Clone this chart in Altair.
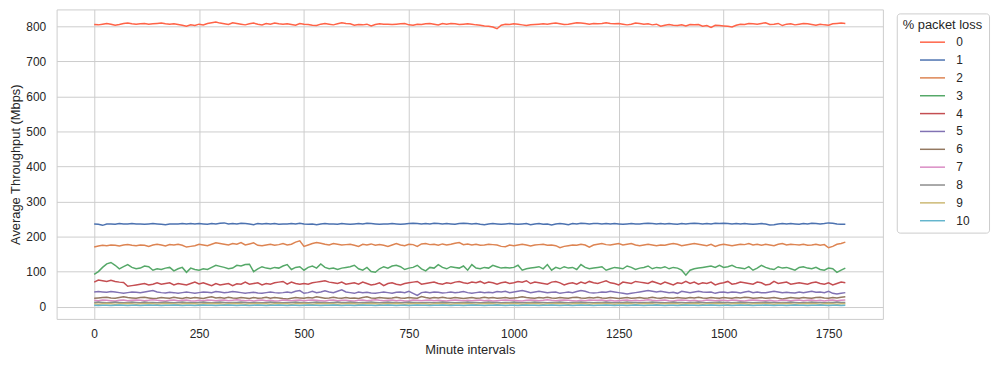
import altair as alt
import pandas as pd

minutes = list(range(0, 1800, 10))

loss_0 = [805, 804, 806, 808, 806, 803, 805, 808, 809, 807,
          806, 807, 808, 806, 807, 808, 809, 807, 806, 807,
          805, 803, 800, 804, 802, 806, 804, 808, 810, 812,
          809, 807, 805, 810, 808, 806, 804, 807, 809, 806,
          804, 808, 806, 809, 807, 806, 807, 805, 803, 808,
          806, 805, 803, 802, 806, 808, 806, 804, 807, 810,
          808, 807, 803, 805, 804, 806, 801, 805, 807, 806,
          806, 805, 806, 807, 808, 804, 803, 806, 805, 807,
          808, 806, 804, 808, 806, 808, 807, 805, 806, 807,
          806, 804, 803, 801, 800, 798, 793, 803, 806, 805,
          807, 806, 804, 802, 804, 805, 806, 807, 806, 808,
          809, 807, 805, 806, 808, 810, 809, 808, 806, 808,
          807, 808, 810, 808, 807, 808, 806, 804, 806, 809,
          808, 806, 807, 804, 806, 800, 803, 805, 803, 802,
          804, 801, 805, 804, 805, 800, 802, 797, 803, 802,
          801, 800, 798, 803, 806, 805, 808, 807, 806, 808,
          810, 805, 806, 808, 802, 806, 807, 804, 806, 808,
          807, 805, 803, 806, 804, 803, 807, 808, 809, 808]

loss_1 = [236, 235, 232, 236, 236, 235, 237, 236, 236, 237,
          236, 236, 235, 236, 237, 236, 235, 234, 236, 236,
          236, 237, 236, 237, 236, 237, 236, 235, 237, 236,
          238, 239, 236, 237, 236, 238, 237, 236, 234, 237,
          236, 237, 236, 237, 235, 236, 236, 237, 236, 238,
          236, 235, 236, 234, 236, 237, 236, 236, 235, 237,
          236, 235, 236, 237, 236, 238, 237, 236, 235, 236,
          236, 237, 236, 235, 236, 237, 238, 237, 236, 237,
          236, 238, 237, 236, 237, 236, 235, 237, 238, 237,
          236, 237, 235, 234, 236, 237, 236, 235, 236, 237,
          236, 235, 236, 237, 234, 236, 237, 235, 236, 233,
          236, 237, 236, 234, 237, 236, 238, 237, 236, 237,
          237, 236, 237, 236, 237, 236, 235, 236, 237, 236,
          236, 237, 238, 237, 236, 237, 236, 237, 236, 235,
          237, 236, 237, 238, 237, 236, 237, 236, 238, 237,
          238, 237, 236, 237, 236, 237, 236, 235, 236, 237,
          236, 233, 234, 236, 237, 236, 237, 236, 235, 237,
          236, 238, 237, 236, 237, 239, 238, 236, 235, 235]

loss_2 = [170, 173, 175, 174, 176, 175, 173, 176, 177, 175,
          174, 176, 175, 172, 176, 178, 176, 173, 177, 176,
          178, 175, 170, 172, 174, 178, 176, 174, 178, 182,
          180, 178, 176, 180, 178, 183, 176, 179, 182, 175,
          174, 176, 178, 175, 177, 180, 176, 178, 184, 188,
          172, 176, 180, 183, 181, 178, 176, 180, 178, 176,
          177, 178, 175, 172, 178, 176, 179, 175, 177, 175,
          172, 176, 180, 176, 174, 178, 177, 172, 179, 180,
          177, 178, 175, 179, 176, 178, 181, 183, 177, 179,
          176, 178, 175, 176, 178, 177, 176, 172, 171, 176,
          174, 176, 178, 176, 173, 176, 177, 178, 175, 176,
          174, 168, 172, 174, 176, 175, 178, 176, 170, 176,
          178, 180, 177, 176, 178, 180, 176, 178, 180, 176,
          174, 176, 178, 176, 174, 176, 175, 178, 180, 178,
          174, 176, 178, 180, 178, 176, 174, 178, 172, 176,
          178, 176, 174, 176, 178, 177, 180, 176, 178, 175,
          178, 176, 174, 178, 180, 176, 178, 177, 176, 178,
          175, 176, 178, 175, 177, 168, 172, 178, 180, 184]

loss_3 = [92, 100, 112, 122, 126, 118, 108, 114, 120, 112,
          108, 110, 116, 114, 104, 108, 106, 110, 112, 102,
          108, 112, 98, 110, 106, 104, 108, 106, 112, 118,
          115, 112, 108, 110, 118, 116, 120, 121, 100, 108,
          114, 110, 108, 112, 110, 116, 120, 106, 112, 114,
          104, 112, 116, 110, 122, 112, 108, 110, 106, 110,
          112, 114, 118, 108, 104, 112, 100, 98, 108, 114,
          110, 116, 118, 114, 106, 110, 112, 118, 108, 102,
          112, 110, 120, 112, 108, 114, 112, 110, 116, 104,
          120, 110, 108, 112, 110, 118, 114, 110, 112, 110,
          112, 118, 104, 108, 110, 112, 114, 108, 120, 104,
          112, 108, 114, 110, 112, 106, 120, 112, 108, 110,
          112, 114, 104, 108, 112, 110, 108, 116, 112, 106,
          110, 112, 116, 108, 112, 110, 114, 108, 112, 110,
          104, 90, 104, 108, 110, 112, 114, 116, 112, 118,
          112, 114, 118, 112, 110, 108, 114, 104, 110, 118,
          112, 108, 106, 114, 110, 112, 108, 104, 112, 114,
          110, 108, 112, 106, 104, 110, 108, 98, 104, 110]

loss_4 = [70, 76, 74, 72, 75, 72, 70, 69, 58, 60,
          62, 64, 66, 62, 64, 68, 64, 66, 68, 62,
          66, 64, 62, 66, 70, 65, 68, 64, 60, 66,
          62, 64, 66, 60, 65, 64, 70, 64, 66, 68,
          62, 66, 64, 68, 70, 72, 64, 70, 66, 64,
          66, 64, 68, 70, 72, 74, 70, 68, 66, 70,
          64, 66, 68, 64, 70, 66, 62, 64, 68, 60,
          66, 68, 64, 62, 66, 68, 70, 72, 64, 66,
          68, 70, 66, 64, 68, 66, 70, 72, 68, 66,
          70, 68, 72, 66, 70, 68, 64, 68, 70, 66,
          68, 72, 70, 74, 66, 70, 68, 66, 64, 70,
          72, 68, 62, 66, 68, 64, 70, 66, 72, 68,
          66, 70, 74, 68, 66, 62, 70, 68, 66, 72,
          70, 68, 66, 72, 68, 64, 70, 66, 62, 68,
          66, 72, 66, 70, 64, 68, 66, 70, 62, 66,
          68, 72, 64, 66, 70, 68, 66, 64, 70, 68,
          62, 64, 72, 66, 68, 70, 64, 66, 68, 66,
          64, 68, 70, 66, 64, 68, 62, 66, 70, 68]

loss_5 = [42, 43, 42, 41, 43, 42, 40, 38, 40, 42,
          41, 40, 42, 44, 46, 42, 40, 39, 41, 40,
          38, 40, 42, 40, 38, 40, 42, 41, 40, 43,
          42, 40, 41, 43, 42, 40, 38, 40, 41, 39,
          38, 40, 42, 40, 39, 40, 42, 40, 44, 46,
          38, 40, 44, 40, 42, 45, 42, 40, 44, 48,
          42, 40, 38, 42, 40, 41, 39, 38, 40, 42,
          40, 38, 41, 42, 40, 44, 38, 32, 40, 42,
          40, 42, 41, 39, 40, 42, 40, 41, 43, 40,
          38, 40, 42, 40, 41, 40, 43, 42, 44, 40,
          42, 44, 46, 43, 40, 42, 44, 42, 40, 41,
          42, 38, 40, 42, 40, 43, 46, 44, 40, 39,
          40, 42, 41, 44, 42, 40, 38, 36, 38, 40,
          42, 44, 46, 44, 42, 44, 42, 40, 41, 38,
          44, 42, 40, 42, 44, 42, 41, 42, 38, 41,
          42, 40, 42, 41, 39, 42, 44, 40, 42, 40,
          40, 42, 44, 42, 40, 41, 40, 39, 42, 40,
          42, 44, 41, 42, 40, 44, 38, 36, 38, 40]

loss_6 = [24, 25, 26, 27, 25, 24, 26, 28, 26, 25,
          24, 26, 27, 25, 23, 24, 26, 25, 24, 27,
          25, 23, 26, 24, 26, 25, 23, 26, 28, 25,
          26, 24, 27, 25, 24, 26, 25, 23, 26, 24,
          25, 27, 24, 26, 25, 23, 22, 24, 26, 25,
          24, 26, 25, 28, 26, 24, 25, 27, 25, 24,
          26, 24, 25, 23, 26, 28, 25, 24, 26, 25,
          24, 25, 27, 25, 24, 26, 25, 24, 29, 26,
          24, 26, 25, 27, 25, 24, 26, 25, 23, 25,
          26, 24, 25, 27, 25, 26, 24, 25, 26, 24,
          25, 26, 28, 26, 25, 24, 26, 25, 27, 25,
          24, 26, 25, 24, 26, 27, 25, 24, 26, 25,
          27, 25, 24, 26, 25, 23, 25, 26, 24, 25,
          26, 24, 25, 27, 25, 24, 26, 25, 24, 26,
          25, 24, 26, 25, 27, 25, 24, 26, 25, 24,
          26, 25, 24, 26, 25, 27, 26, 24, 25, 26,
          24, 25, 26, 24, 22, 24, 26, 25, 24, 26,
          25, 24, 26, 27, 25, 24, 26, 25, 27, 28]

loss_7 = [18, 17, 19, 18, 17, 16, 18, 19, 17, 18,
          19, 18, 17, 18, 20, 18, 17, 16, 18, 19,
          17, 18, 19, 17, 16, 18, 17, 19, 18, 17,
          18, 19, 17, 18, 20, 18, 17, 18, 16, 18,
          19, 17, 18, 16, 17, 19, 18, 17, 18, 19,
          17, 18, 19, 18, 17, 16, 18, 19, 17, 18,
          18, 17, 16, 18, 19, 17, 18, 20, 18, 17,
          18, 19, 17, 18, 16, 17, 19, 18, 17, 18,
          19, 17, 18, 17, 16, 18, 19, 18, 17, 18,
          17, 18, 19, 17, 18, 16, 17, 18, 19, 18,
          18, 17, 16, 18, 19, 18, 17, 18, 20, 18,
          17, 18, 19, 18, 17, 16, 18, 17, 19, 18,
          18, 19, 17, 18, 16, 17, 18, 19, 17, 18,
          17, 18, 20, 18, 17, 18, 19, 17, 16, 18,
          19, 18, 17, 18, 16, 17, 19, 18, 17, 18,
          18, 17, 19, 18, 17, 16, 18, 19, 18, 17,
          17, 18, 16, 17, 19, 18, 17, 18, 19, 17,
          18, 19, 17, 18, 16, 18, 19, 17, 18, 19]

loss_8 = [12, 13, 12, 11, 12, 13, 12, 11, 12, 13,
          12, 11, 13, 12, 12, 11, 12, 13, 12, 11,
          12, 13, 12, 12, 11, 12, 13, 12, 11, 12,
          13, 12, 11, 12, 12, 13, 12, 11, 12, 12,
          11, 12, 13, 12, 12, 11, 12, 12, 13, 12,
          12, 11, 12, 13, 12, 12, 11, 12, 13, 12,
          12, 13, 12, 11, 12, 12, 13, 12, 11, 12,
          13, 12, 12, 11, 12, 13, 12, 12, 11, 12,
          12, 11, 12, 13, 12, 12, 11, 12, 12, 13,
          12, 12, 11, 12, 13, 12, 12, 11, 12, 12,
          13, 12, 11, 12, 12, 13, 12, 12, 11, 12,
          12, 13, 12, 11, 12, 12, 13, 12, 12, 11,
          12, 12, 13, 12, 11, 12, 12, 13, 12, 12,
          11, 12, 12, 13, 12, 12, 11, 12, 13, 12,
          12, 11, 12, 12, 13, 12, 11, 12, 12, 13,
          12, 12, 11, 12, 13, 12, 12, 11, 12, 12,
          13, 12, 12, 11, 12, 12, 13, 12, 11, 12,
          12, 13, 12, 12, 11, 12, 12, 13, 12, 12]

loss_9 = [8, 7, 8, 9, 8, 7, 8, 8, 9, 8,
          7, 8, 8, 9, 8, 7, 8, 9, 8, 8,
          7, 8, 9, 8, 8, 7, 8, 8, 9, 8,
          8, 7, 8, 9, 8, 8, 7, 8, 8, 9,
          8, 8, 7, 8, 9, 8, 8, 7, 8, 8,
          9, 8, 7, 8, 8, 9, 8, 8, 7, 8,
          8, 9, 8, 7, 8, 8, 9, 8, 7, 8,
          8, 8, 9, 8, 7, 8, 8, 9, 8, 8,
          7, 8, 9, 8, 8, 7, 8, 8, 9, 8,
          8, 7, 8, 8, 9, 8, 7, 8, 8, 9,
          8, 8, 7, 8, 9, 8, 8, 7, 8, 8,
          9, 8, 8, 7, 8, 9, 8, 8, 7, 8,
          8, 9, 8, 8, 7, 8, 8, 9, 8, 7,
          8, 8, 9, 8, 7, 8, 8, 9, 8, 8,
          7, 8, 8, 9, 8, 7, 8, 8, 9, 8,
          8, 7, 8, 9, 8, 8, 7, 8, 8, 9,
          8, 8, 7, 8, 9, 8, 8, 7, 8, 8,
          9, 8, 8, 7, 8, 9, 8, 7, 8, 8]

loss_10 = [4, 3, 4, 4, 3, 4, 5, 4, 3, 4,
           4, 3, 4, 5, 4, 4, 3, 4, 4, 5,
           4, 3, 4, 4, 3, 4, 5, 4, 4, 3,
           4, 4, 5, 4, 3, 4, 4, 3, 4, 5,
           4, 3, 4, 4, 5, 4, 3, 4, 4, 3,
           4, 5, 4, 4, 3, 4, 4, 5, 4, 3,
           4, 4, 3, 4, 5, 4, 4, 3, 4, 4,
           5, 4, 3, 4, 4, 3, 4, 5, 4, 4,
           3, 4, 4, 5, 4, 3, 4, 4, 3, 4,
           5, 4, 4, 3, 4, 4, 5, 4, 3, 4,
           4, 3, 4, 5, 4, 4, 3, 4, 4, 5,
           4, 3, 4, 4, 3, 4, 5, 4, 4, 3,
           4, 4, 5, 4, 3, 4, 4, 3, 4, 5,
           4, 3, 4, 4, 5, 4, 3, 4, 4, 3,
           4, 5, 4, 4, 3, 4, 4, 5, 4, 3,
           4, 4, 3, 4, 5, 4, 4, 3, 4, 4,
           5, 4, 3, 4, 4, 3, 4, 5, 4, 4,
           3, 4, 4, 5, 4, 3, 4, 4, 3, 4]

series_names = ["0", "1", "2", "3", "4", "5", "6", "7", "8", "9", "10"]
series_values = [loss_0, loss_1, loss_2, loss_3, loss_4, loss_5,
                 loss_6, loss_7, loss_8, loss_9, loss_10]
palette = ["#ff6347", "#4c72b0", "#dd8452", "#55a868", "#c44e52", "#8172b3",
           "#937860", "#da8bc3", "#8c8c8c", "#ccb974", "#64b5cd"]

rows = []
for idx, (name, vals) in enumerate(zip(series_names, series_values)):
    for m, v in zip(minutes, vals):
        rows.append({"minute": m, "throughput": v, "loss": name, "order": idx})
df = pd.DataFrame(rows)

FONT = "Liberation Sans"
TXT = "#262626"

chart = alt.Chart(df).mark_line(strokeWidth=1.5).encode(
    x=alt.X("minute:Q",
            scale=alt.Scale(domain=[-89.5, 1879.5], nice=False, zero=False),
            axis=alt.Axis(title="Minute intervals", values=[0, 250, 500, 750, 1000, 1250, 1500, 1750],
                          format="d", labelPadding=10, titlePadding=4)),
    y=alt.Y("throughput:Q",
            scale=alt.Scale(domain=[-35, 848], nice=False, zero=False),
            axis=alt.Axis(title="Average Throughput (Mbps)", values=[0, 100, 200, 300, 400, 500, 600, 700, 800],
                          format="d", labelPadding=11, titlePadding=3)),
    color=alt.Color("loss:N",
                    scale=alt.Scale(domain=series_names, range=palette),
                    sort=series_names,
                    legend=alt.Legend(title="% packet loss", orient="none", legendX=847, legendY=4,
                                      symbolType="M-1.4,0L1.4,0", symbolSize=324, symbolStrokeWidth=1.5,
                                      symbolOffset=20, labelOffset=14, rowPadding=2,
                                      padding=6, titlePadding=0, strokeColor="#cccccc",
                                      fillColor="white", cornerRadius=3)),
    detail="loss:N",
    order="order:Q",
).properties(
    width=833, height=312,
    autosize=alt.AutoSizeParams(type="none"),
    padding={"left": 49, "top": 0, "right": 110, "bottom": 45},
).configure(font=FONT).configure_view(
    stroke="#cccccc", strokeWidth=1
).configure_axis(
    grid=True, gridColor="#cccccc", gridWidth=1, domain=False, ticks=False, tickSize=0,
    labelFont=FONT, labelFontSize=12, labelColor=TXT,
    titleFont=FONT, titleFontSize=13, titleColor=TXT, titleFontWeight="normal"
).configure_legend(
    labelFont=FONT, labelFontSize=12, labelColor=TXT,
    titleFont=FONT, titleFontSize=13, titleColor=TXT, titleFontWeight="normal"
)

chart.save("out.html", embed_options={"renderer": "svg", "actions": False})
